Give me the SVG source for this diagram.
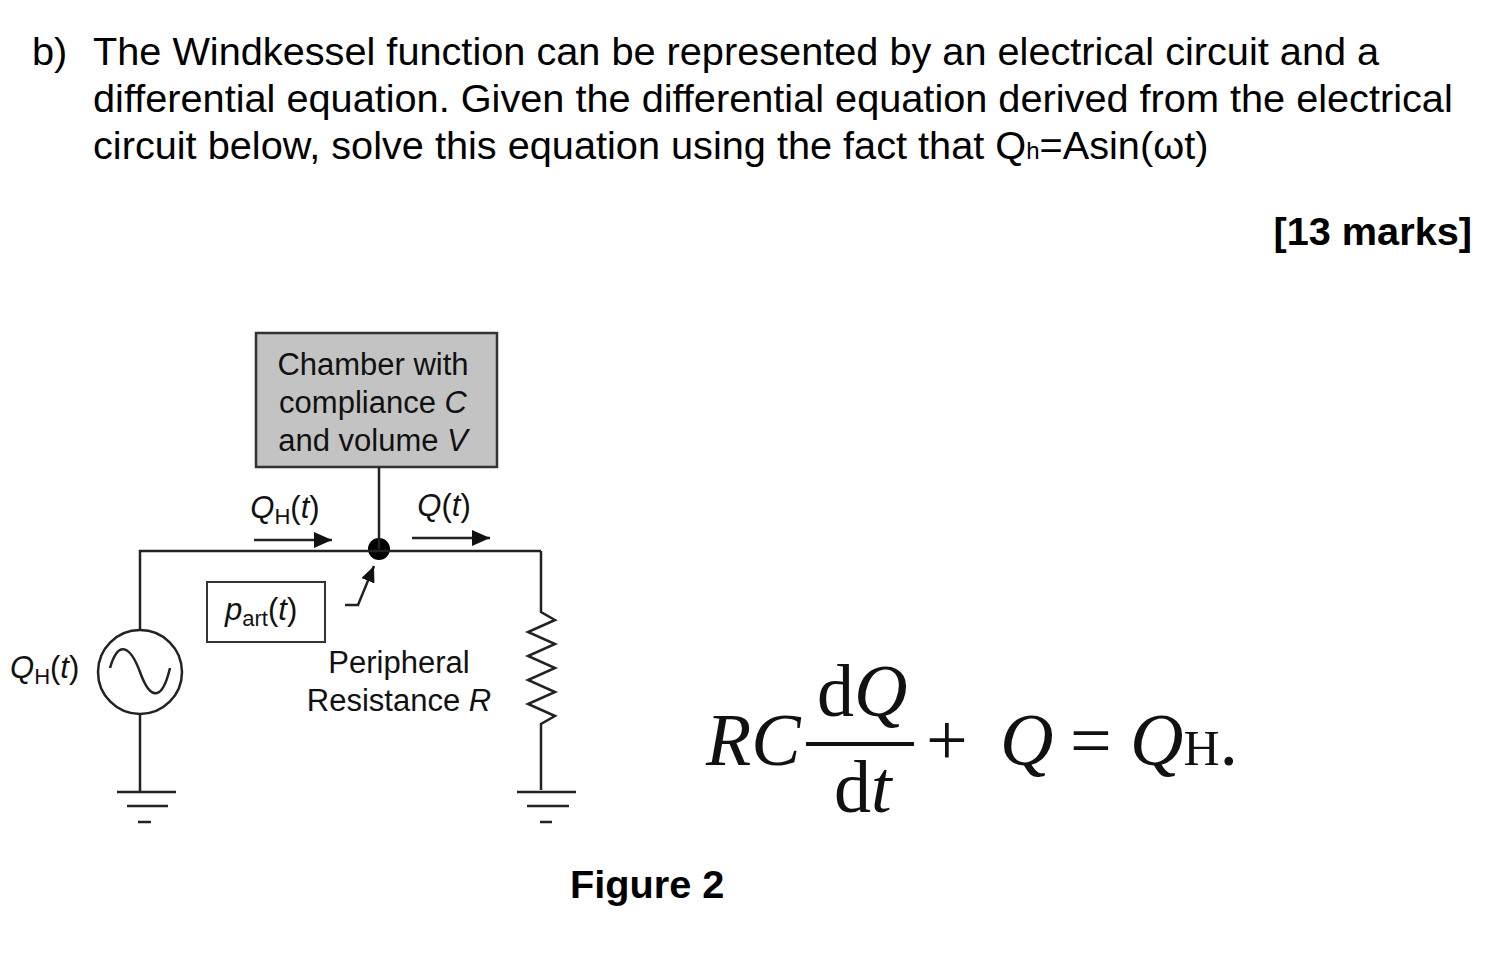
<svg xmlns="http://www.w3.org/2000/svg" width="1498" height="960" viewBox="0 0 1498 960">
<style>
.h{font-family:"Liberation Sans",Arial,sans-serif;font-size:39.7px;fill:#000}
.c{font-family:"Liberation Sans",Arial,sans-serif;font-size:31px;fill:#111}
.w{stroke:#222;stroke-width:2.5;fill:none}
.m{font-family:"Liberation Serif","Times New Roman",serif;font-size:74px;fill:#111}
</style>
<defs><marker id="a" markerWidth="16" markerHeight="14" refX="16" refY="7" orient="auto" markerUnits="userSpaceOnUse"><path d="M0,0L16,7L0,14z" fill="#111"/></marker>
<marker id="b" markerWidth="18" markerHeight="16" refX="18" refY="8" orient="auto" markerUnits="userSpaceOnUse"><path d="M0,0L18,8L0,16z" fill="#111"/></marker></defs>
<text class="h" x="32" y="65">b)</text>
<text class="h" x="93" y="65">The Windkessel function can be represented by an electrical circuit and a</text>
<text class="h" x="93" y="112">differential equation. Given the differential equation derived from the electrical</text>
<text class="h" x="93" y="159">circuit below, solve this equation using the fact that Q<tspan font-size="24">h</tspan>=Asin(ωt)</text>
<text class="h" x="1472" y="245" text-anchor="end" font-weight="bold">[13 marks]</text>
<g id="chamber"><rect x="256" y="333" width="241" height="134" fill="#c3c3c3" stroke="#333" stroke-width="2.5"/>
<text class="c" x="373" y="375" text-anchor="middle">Chamber with</text>
<text class="c" x="373" y="413" text-anchor="middle">compliance <tspan font-style="italic">C</tspan></text>
<text class="c" x="373" y="451" text-anchor="middle">and volume <tspan font-style="italic">V</tspan></text></g>
<g id="part"><rect x="207" y="582" width="118" height="60" fill="#fff" stroke="#333" stroke-width="2"/>
<text class="c" x="225" y="620" font-style="italic">p<tspan font-style="normal" font-size="22" dy="6">art</tspan><tspan font-style="normal" dy="-6">(</tspan>t<tspan font-style="normal">)</tspan></text></g>
<g id="source"><circle cx="140" cy="672" r="42" fill="#fff" stroke="#222" stroke-width="2.5"/>
<path class="w" d="M110,668C118,640 130,645 140,672C150,700 162,702 170,668"/>
<text class="c" x="10" y="678" font-style="italic">Q<tspan font-style="normal" font-size="22" dy="6">H</tspan><tspan font-style="normal" dy="-6">(</tspan>t<tspan font-style="normal">)</tspan></text></g>
<g id="resistor"><path class="w" d="M541,551V612L555,620L528,632L555,644L528,656L555,668L528,680L555,692L528,704L555,716L541,724V790"/></g>
<g id="gnd1"><path class="w" d="M117,792H176M127,806H168M138,822H151"/></g>
<g id="gnd2"><path class="w" d="M517,792H576M527,806H569M540,822H552"/></g>
<g id="node"><circle cx="379" cy="549" r="11" fill="#000"/></g>
<g id="connectors">
<path class="w" d="M140,630V551H541"/><path class="w" d="M140,714V792"/>
<path class="w" d="M379,467V549"/>
<path class="w" d="M254,540H332" marker-end="url(#b)"/>
<path class="w" d="M412,538H490" marker-end="url(#b)"/>
<path class="w" d="M345,605H358L374,566" marker-end="url(#a)"/>
</g>
<text class="c" x="285" y="518" font-style="italic" text-anchor="middle">Q<tspan font-style="normal" font-size="22" dy="6">H</tspan><tspan font-style="normal" dy="-6">(</tspan>t<tspan font-style="normal">)</tspan></text>
<text class="c" x="444" y="516" font-style="italic" text-anchor="middle">Q<tspan font-style="normal">(</tspan>t<tspan font-style="normal">)</tspan></text>
<text class="c" x="399" y="673" text-anchor="middle">Peripheral</text>
<text class="c" x="399" y="711" text-anchor="middle">Resistance <tspan font-style="italic">R</tspan></text>
<g id="equation">
<text class="m" x="706" y="765" font-style="italic">RC</text>
<text class="m" x="817" y="716">d<tspan font-style="italic">Q</tspan></text>
<rect x="806" y="742" width="108" height="4" fill="#111"/>
<text class="m" x="834" y="812">d<tspan font-style="italic">t</tspan></text>
<text class="m" x="926" y="765">+</text>
<text class="m" x="1000" y="765" font-style="italic">Q</text>
<text class="m" x="1070" y="765">=</text>
<text class="m" x="1130" y="765"><tspan font-style="italic">Q</tspan><tspan font-size="50">H</tspan>.</text>
</g>
<text class="h" x="570" y="898" font-weight="bold">Figure 2</text>
</svg>
